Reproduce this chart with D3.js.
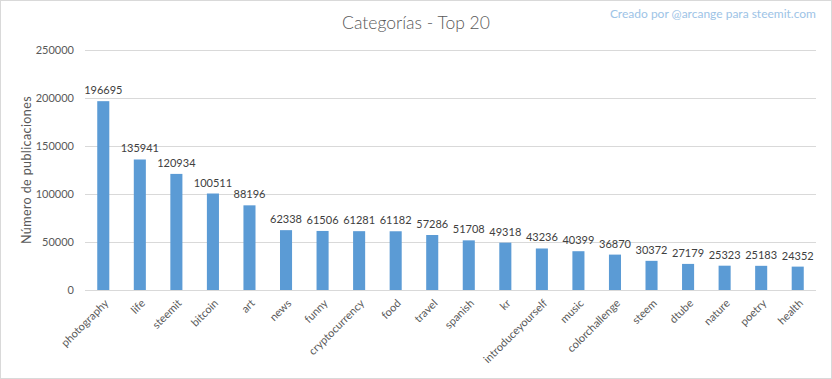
<!DOCTYPE html>
<html><head><meta charset="utf-8">
<script src="https://cdn.jsdelivr.net/npm/d3@7"></script>
<style>
html,body{margin:0;padding:0;background:#fff;}
svg{display:block;font-family:Lato, "Open Sans", sans-serif;}
</style></head>
<body><svg id="c" width="832" height="379"></svg>
<script>
const categories = ["photography","life","steemit","bitcoin","art","news","funny","cryptocurrency","food","travel","spanish","kr","introduceyourself","music","colorchallenge","steem","dtube","nature","poetry","health"];
const values = [196695,135941,120934,100511,88196,62338,61506,61281,61182,57286,51708,49318,43236,40399,36870,30372,27179,25323,25183,24352];
const yTicks = [0,50000,100000,150000,200000,250000];

const svg = d3.select("#c");
svg.append("rect").attr("x",0.5).attr("y",0.5).attr("width",831).attr("height",378)
  .attr("fill","#fff").attr("stroke","#d9d9d9");

const x = d3.scaleBand().domain(categories).range([85,816]).paddingInner(0.67).paddingOuter(0.335);
const y = d3.scaleLinear().domain([0,250000]).range([290,50]);

// gridlines
svg.append("g").selectAll("line").data(yTicks).join("line")
  .attr("x1",85).attr("x2",816).attr("y1",d=>y(d)+0.5).attr("y2",d=>y(d)+0.5)
  .attr("stroke","#d9d9d9").attr("stroke-width",1);

// y axis labels
const yAxis = d3.axisLeft(y).tickValues(yTicks).tickSize(0).tickPadding(0).tickFormat(d3.format("d"));
const gy = svg.append("g").attr("transform","translate(74,0)").call(yAxis);
gy.select(".domain").remove();
gy.selectAll("text").attr("font-size",11).attr("fill","#595959").attr("font-family","Lato, sans-serif");

// bars
svg.append("g").selectAll("rect").data(values).join("rect")
  .attr("x",(d,i)=>x(categories[i])).attr("width",x.bandwidth())
  .attr("y",d=>y(d)).attr("height",d=>290-y(d)).attr("fill","#5b9bd5");

// value labels
svg.append("g").selectAll("text").data(values).join("text")
  .attr("x",(d,i)=>x(categories[i])+x.bandwidth()/2).attr("y",d=>y(d)-7)
  .attr("text-anchor","middle").attr("font-size",11).attr("fill","#404040")
  .text(d=>d);

// x axis labels
const xAxis = d3.axisBottom(x).tickSize(0).tickPadding(0);
const gx = svg.append("g").attr("transform","translate(0,290)").call(xAxis);
gx.select(".domain").remove();
gx.selectAll("text")
  .attr("font-size",11).attr("fill","#595959").attr("font-family","Lato, sans-serif")
  .attr("text-anchor","end").attr("dy",null).attr("y",0)
  .attr("transform","translate(6,14) rotate(-45)");

// title
svg.append("text").attr("x",416).attr("y",29).attr("text-anchor","middle")
  .attr("font-size",17.5).attr("font-weight",300).attr("fill","#595959").text("Categorías - Top 20");
svg.append("text").attr("x",816).attr("y",18).attr("text-anchor","end")
  .attr("font-size",12).attr("fill","#9dc3e6").text("Creado por @arcange para steemit.com");
// y label
svg.append("text").attr("transform","translate(31,170) rotate(-90)").attr("text-anchor","middle")
  .attr("font-size",12.5).attr("fill","#595959").attr("letter-spacing",0.4).text("Número de publicaciones");
</script></body></html>
